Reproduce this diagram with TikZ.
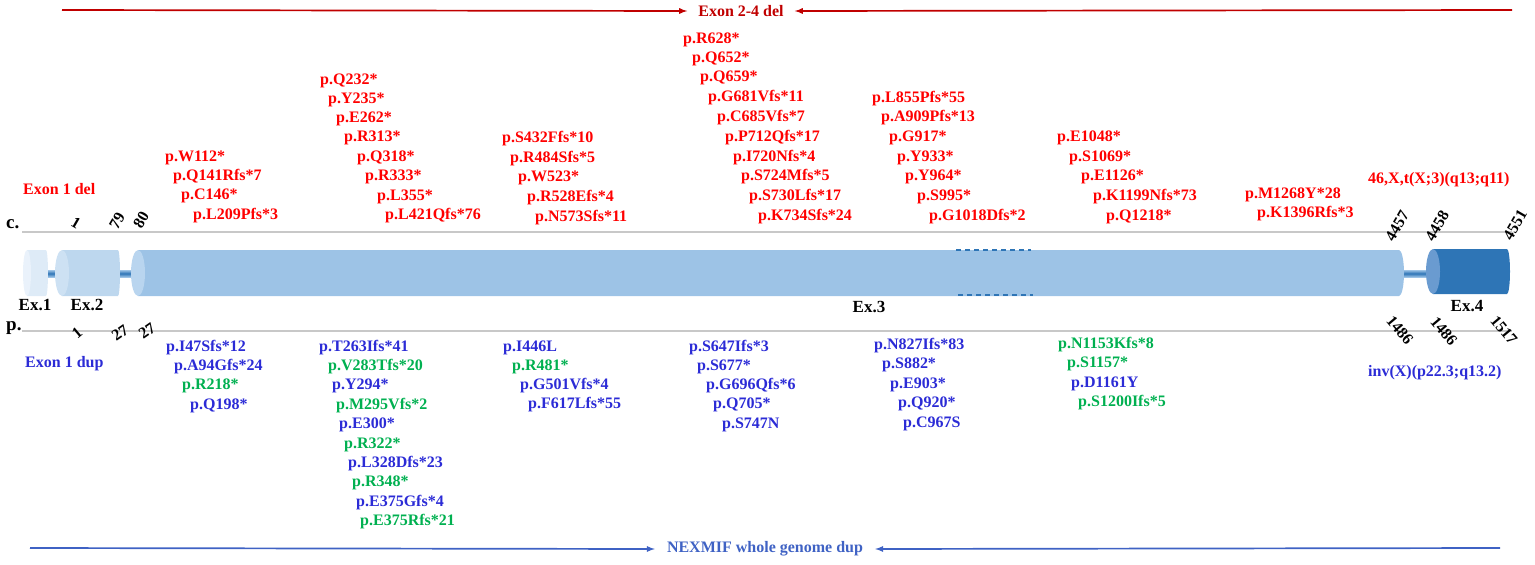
\documentclass[tikz,border=0pt]{standalone}
\usepackage{fontspec}
\setmainfont{Liberation Serif}
\usetikzlibrary{arrows}
\definecolor{mutred}{HTML}{FF0000}
\definecolor{delred}{HTML}{C00000}
\definecolor{mutblue}{HTML}{2B2BD6}
\definecolor{mutgreen}{HTML}{00B050}
\definecolor{dupblue}{HTML}{3F62C4}
\definecolor{axisgray}{HTML}{C8C8C8}
\definecolor{exA}{HTML}{DEEBF7}
\definecolor{exAface}{HTML}{EAF2FB}
\definecolor{exB}{HTML}{BDD7EE}
\definecolor{exBface}{HTML}{CDE1F3}
\definecolor{exC}{HTML}{9DC3E6}
\definecolor{exCface}{HTML}{B9D5EF}
\definecolor{exD}{HTML}{2E75B6}
\definecolor{exDface}{HTML}{6A9BD0}
\tikzset{
  lbl/.style={inner sep=0pt,font=\bfseries\fontsize{16}{19}\selectfont},
  redmut/.style={lbl,anchor=west,text=mutred},
  bluemut/.style={lbl,anchor=west,text=mutblue},
  greenmut/.style={lbl,anchor=west,text=mutgreen},
  coordlbl/.style={lbl,text=black},
  intron/.style={top color=exC,bottom color=exC,middle color=exD}
}
\begin{document}
\begin{tikzpicture}[x=1pt,y=-1pt]
  \useasboundingbox (0,0) rectangle (1535,565);

  % large rearrangements
  \node[lbl,text=delred,inner xsep=11pt] (del24) at (741,11) {Exon 2-4 del};
  \coordinate (delL) at (62,10);
  \coordinate (delR) at (1512,10);
  \draw[-latex,delred,line width=1.7pt] (delL) -- (del24.west);
  \draw[-latex,delred,line width=1.7pt] (delR) -- (del24.east);
  \node[lbl,text=dupblue,inner xsep=12pt] (dupall) at (765,549) {NEXMIF whole genome dup};
  \coordinate (dupL) at (30,548);
  \coordinate (dupR) at (1500,548);
  \draw[-latex,dupblue,line width=1.7pt] (dupL) -- (dupall.west);
  \draw[-latex,dupblue,line width=1.7pt] (dupR) -- (dupall.east);

  % cDNA and protein axes
  \node[lbl,anchor=west,font=\bfseries\fontsize{19}{22}\selectfont] (cdna) at (6,224) {c.};
  \node[lbl,anchor=west,font=\bfseries\fontsize{19}{22}\selectfont] (prot) at (6,328) {p.};
  \draw[axisgray,line width=1.5pt] (22,232) -- (1512,232);
  \draw[axisgray,line width=1.5pt] (22,331) -- (1512,331);

  % exons
  \shade[intron] (46,270) rectangle (63,277);
  \shade[intron] (118,270) rectangle (139,277);
  \shade[intron] (1402,270) rectangle (1434,277);
  \fill[exA] (27,250) -- (46,250) arc[start angle=-90,end angle=90,x radius=2,y radius=23] -- (27,296) -- cycle;
  \fill[exAface] (27,273) ellipse [x radius=4,y radius=23];
  \fill[exB] (62,250) -- (118,250) arc[start angle=-90,end angle=90,x radius=2,y radius=23] -- (62,296) -- cycle;
  \fill[exBface] (62,273) ellipse [x radius=7,y radius=23];
  \fill[exC] (138,250) -- (1399,250) arc[start angle=-90,end angle=90,x radius=5,y radius=23] -- (138,296) -- cycle;
  \fill[exCface] (138,273) ellipse [x radius=7,y radius=23];
  \fill[exD] (1433,249) -- (1507,249) arc[start angle=-90,end angle=90,x radius=3,y radius=22.5] -- (1433,294) -- cycle;
  \fill[exDface] (1433,271.5) ellipse [x radius=7,y radius=22.5];
  \draw[exD,line width=1.5pt,dash pattern=on 5pt off 4pt] (956,250) -- (1031,250) (958,295) -- (1033,295);

  \node[coordlbl,font=\bfseries\fontsize{17}{20}\selectfont] (ex1) at (35,305) {Ex.1};
  \node[coordlbl,font=\bfseries\fontsize{17}{20}\selectfont] (ex2) at (87,305) {Ex.2};
  \node[coordlbl,font=\bfseries\fontsize{17}{20}\selectfont] (ex3) at (869,307) {Ex.3};
  \node[coordlbl,font=\bfseries\fontsize{17}{20}\selectfont] (ex4) at (1467,306) {Ex.4};

  % positions
  \node[coordlbl,rotate=-30] (c1) at (76,223) {1};
  \node[coordlbl,rotate=60] (c79) at (117,221) {79};
  \node[coordlbl,rotate=60] (c80) at (141,220) {80};
  \node[coordlbl,rotate=60] (c4457) at (1397,226) {4457};
  \node[coordlbl,rotate=60] (c4458) at (1437,226) {4458};
  \node[coordlbl,rotate=60] (c4551) at (1515,225) {4551};
  \node[coordlbl,rotate=40] (p1) at (77,333) {1};
  \node[coordlbl,rotate=35] (p27a) at (120,333) {27};
  \node[coordlbl,rotate=35] (p27b) at (147,331) {27};
  \node[coordlbl,rotate=-50] (p1486a) at (1400,330) {1486};
  \node[coordlbl,rotate=-50] (p1486b) at (1444,331) {1486};
  \node[coordlbl,rotate=-50] (p1517) at (1504,330) {1517};

  % variants above the gene
  \node[redmut] (exdel) at (23,189) {Exon 1 del};
  \node[redmut] (w112) at (165,158) {p.W112*};
  \node[redmut] (q141) at (173,177) {p.Q141Rfs*7};
  \node[redmut] (c146) at (181,196) {p.C146*};
  \node[redmut] (l209) at (193,216) {p.L209Pfs*3};
  \node[redmut] (q232) at (320,81) {p.Q232*};
  \node[redmut] (y235) at (328,100) {p.Y235*};
  \node[redmut] (e262) at (336,119) {p.E262*};
  \node[redmut] (r313) at (344,138) {p.R313*};
  \node[redmut] (q318) at (357,158) {p.Q318*};
  \node[redmut] (r333) at (365,177) {p.R333*};
  \node[redmut] (l355) at (377,197) {p.L355*};
  \node[redmut] (l421) at (385,216) {p.L421Qfs*76};
  \node[redmut] (s432) at (502,139) {p.S432Ffs*10};
  \node[redmut] (r484) at (510,159) {p.R484Sfs*5};
  \node[redmut] (w523) at (518,178) {p.W523*};
  \node[redmut] (r528) at (527,198) {p.R528Efs*4};
  \node[redmut] (n573) at (535,218) {p.N573Sfs*11};
  \node[redmut] (r628) at (683,40) {p.R628*};
  \node[redmut] (q652) at (692,59) {p.Q652*};
  \node[redmut] (q659) at (700,78) {p.Q659*};
  \node[redmut] (g681) at (708,98) {p.G681Vfs*11};
  \node[redmut] (c685) at (717,118) {p.C685Vfs*7};
  \node[redmut] (p712) at (725,138) {p.P712Qfs*17};
  \node[redmut] (i720) at (733,158) {p.I720Nfs*4};
  \node[redmut] (s724) at (741,177) {p.S724Mfs*5};
  \node[redmut] (s730) at (749,197) {p.S730Lfs*17};
  \node[redmut] (k734) at (758,217) {p.K734Sfs*24};
  \node[redmut] (l855) at (872,99) {p.L855Pfs*55};
  \node[redmut] (a909) at (881,118) {p.A909Pfs*13};
  \node[redmut] (g917) at (889,138) {p.G917*};
  \node[redmut] (y933) at (897,158) {p.Y933*};
  \node[redmut] (y964) at (905,177) {p.Y964*};
  \node[redmut] (s995) at (917,197) {p.S995*};
  \node[redmut] (g1018) at (929,217) {p.G1018Dfs*2};
  \node[redmut] (e1048) at (1057,138) {p.E1048*};
  \node[redmut] (s1069) at (1069,158) {p.S1069*};
  \node[redmut] (e1126) at (1081,177) {p.E1126*};
  \node[redmut] (k1199) at (1093,197) {p.K1199Nfs*73};
  \node[redmut] (q1218) at (1106,217) {p.Q1218*};
  \node[redmut] (m1268) at (1245,195) {p.M1268Y*28};
  \node[redmut] (k1396) at (1257,214) {p.K1396Rfs*3};
  \node[redmut] (transl) at (1368,180) {46,X,t(X;3)(q13;q11)};

  % variants below the gene
  \node[bluemut] (exdup) at (25,364) {Exon 1 dup};
  \node[bluemut] (i47) at (166,348) {p.I47Sfs*12};
  \node[bluemut] (a94) at (174,367) {p.A94Gfs*24};
  \node[greenmut] (r218) at (182,386) {p.R218*};
  \node[bluemut] (q198) at (190,406) {p.Q198*};
  \node[bluemut] (t263) at (319,348) {p.T263Ifs*41};
  \node[greenmut] (v283) at (328,367) {p.V283Tfs*20};
  \node[bluemut] (y294) at (332,386) {p.Y294*};
  \node[greenmut] (m295) at (336,406) {p.M295Vfs*2};
  \node[bluemut] (e300) at (339,425) {p.E300*};
  \node[greenmut] (r322) at (344,445) {p.R322*};
  \node[bluemut] (l328) at (348,464) {p.L328Dfs*23};
  \node[greenmut] (r348) at (352,483) {p.R348*};
  \node[bluemut] (e375g) at (356,503) {p.E375Gfs*4};
  \node[greenmut] (e375r) at (360,522) {p.E375Rfs*21};
  \node[bluemut] (i446) at (503,348) {p.I446L};
  \node[greenmut] (r481) at (512,367) {p.R481*};
  \node[bluemut] (g501) at (520,386) {p.G501Vfs*4};
  \node[bluemut] (f617) at (528,405) {p.F617Lfs*55};
  \node[bluemut] (s647) at (689,348) {p.S647Ifs*3};
  \node[bluemut] (s677) at (697,367) {p.S677*};
  \node[bluemut] (g696) at (706,386) {p.G696Qfs*6};
  \node[bluemut] (q705) at (713,405) {p.Q705*};
  \node[bluemut] (s747) at (722,425) {p.S747N};
  \node[bluemut] (n827) at (874,346) {p.N827Ifs*83};
  \node[bluemut] (s882) at (882,365) {p.S882*};
  \node[bluemut] (e903) at (890,385) {p.E903*};
  \node[bluemut] (q920) at (898,404) {p.Q920*};
  \node[bluemut] (c967) at (903,424) {p.C967S};
  \node[greenmut] (n1153) at (1058,345) {p.N1153Kfs*8};
  \node[greenmut] (s1157) at (1067,364) {p.S1157*};
  \node[bluemut] (d1161) at (1071,384) {p.D1161Y};
  \node[greenmut] (s1200) at (1078,403) {p.S1200Ifs*5};
  \node[bluemut] (inv) at (1368,373) {inv(X)(p22.3;q13.2)};
\end{tikzpicture}
\end{document}
